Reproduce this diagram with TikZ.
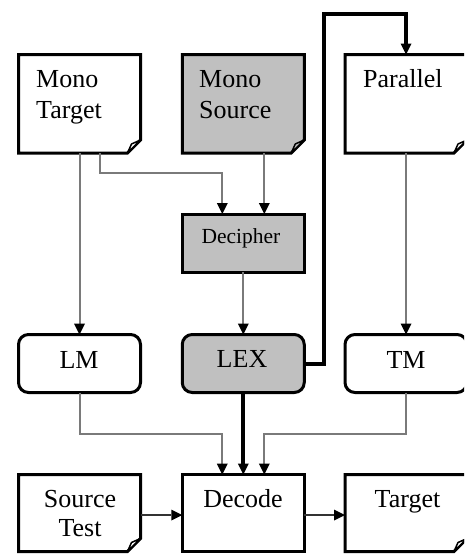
\documentclass[tikz,border=0pt]{standalone}
\usepackage{fontspec}
\setmainfont{Liberation Serif}
\usetikzlibrary{arrows.meta,calc}
\definecolor{boxgray}{HTML}{C0C0C0}
\definecolor{linegray}{HTML}{7A7A7A}
\definecolor{darkline}{HTML}{333333}
\tikzset{
 boxline/.style={line width=3pt, draw=black},
 frame/.style={inner sep=0pt, outer sep=0pt, minimum width=122pt, rectangle},
 plainbox/.style={frame, boxline},
 roundbox/.style={frame, boxline, rounded corners=10pt},
 lbl/.style={font=\fontsize{26}{31}\selectfont, inner sep=0pt, anchor=base},
 small/.style={font=\fontsize{21.5}{25}\selectfont, inner sep=0pt, anchor=base},
 tip/.style={-{Triangle[length=11pt,width=11pt,black,line width=0pt]}},
 conn/.style={tip, line width=2pt, draw=linegray},
 darkconn/.style={tip, line width=2pt, draw=darkline},
 thickconn/.style={tip, line width=4pt, draw=black},
}
\newcommand\docpath[2]{%
 \draw[boxline, fill=#2] (#1.north west) -- (#1.north east) -- ([yshift=13pt]#1.south east) -- ([xshift=-13pt]#1.south east) -- (#1.south west) -- cycle;
 \draw[line width=1.5pt, fill=#2, line join=round] ([xshift=-13pt]#1.south east) -- ([xshift=-9pt,yshift=9pt]#1.south east) -- ([yshift=13pt]#1.south east) -- cycle;}
\begin{document}
\begin{tikzpicture}[x=1pt,y=-1pt]
\useasboundingbox (0,0) rectangle (464,554);
\clip (0,0) rectangle (464,554);
\fill[white] (0,0) rectangle (464,554);
% document-shaped boxes
\node[frame, minimum height=98.5pt] (mt) at (79.5,103.75) {};
\node[frame, minimum height=98.5pt] (ms) at (243.25,103.75) {};
\node[frame, minimum height=98.5pt] (par) at (406,103.75) {};
\node[frame, minimum height=77pt] (st) at (79.5,513) {};
\node[frame, minimum height=77pt] (tgt) at (406,513) {};
\docpath{mt}{white}
\docpath{ms}{boxgray}
\docpath{par}{white}
\docpath{st}{white}
\docpath{tgt}{white}
% other boxes
\node[plainbox, fill=boxgray, minimum height=58pt] (dec) at (243.25,243) {};
\node[roundbox, fill=white, minimum height=58pt] (lm) at (79.5,363.5) {};
\node[roundbox, fill=boxgray, minimum height=58pt] (lex) at (243.25,363.5) {};
\node[roundbox, fill=white, minimum height=58pt] (tm) at (406,363.5) {};
\node[plainbox, fill=white, minimum height=77pt] (decode) at (243.25,513) {};
% labels
\node[lbl, anchor=base west] (mt1) at (36,87) {Mono};
\node[lbl, anchor=base west] (mt2) at (36,118) {Target};
\node[lbl, anchor=base west] (ms1) at (199,87) {Mono};
\node[lbl, anchor=base west] (ms2) at (199,118) {Source};
\node[lbl, anchor=base west] (par1) at (363,87) {Parallel};
\node[small] (dec1) at (241,243) {Decipher};
\node[lbl] (lm1) at (79,368) {LM};
\node[lbl] (lex1) at (242,367) {LEX};
\node[lbl] (tm1) at (406,368) {TM};
\node[lbl] (st1) at (80,507) {Source};
\node[lbl] (st2) at (80,536) {Test};
\node[lbl] (decode1) at (243,507) {Decode};
\node[lbl] (tgt1) at (407.5,507) {Target};
% connectors
\draw[conn] (mt.south) -- (lm.north);
\draw[conn] ($(mt.south)+(20,0)$) -- ++(0,20) -| ($(dec.north)+(-21,0)$);
\draw[conn] ($(ms.south)+(21,0)$) -- ($(dec.north)+(21,0)$);
\draw[conn] (dec.south) -- (lex.north);
\draw[thickconn] (lex.east) -| ($(par.north)+(-82,-41)$) -| (par.north);
\draw[conn] (par.south) -- (tm.north);
\draw[conn] (lm.south) -- ++(0,41.5) -| ($(decode.north)+(-21,0)$);
\draw[thickconn] (lex.south) -- (decode.north);
\draw[conn] (tm.south) -- ++(0,41.5) -| ($(decode.north)+(21,0)$);
\draw[darkconn] ($(st.east)+(0,2)$) -- ($(decode.west)+(0,2)$);
\draw[darkconn] ($(decode.east)+(0,2)$) -- ($(tgt.west)+(0,2)$);
\end{tikzpicture}
\end{document}
